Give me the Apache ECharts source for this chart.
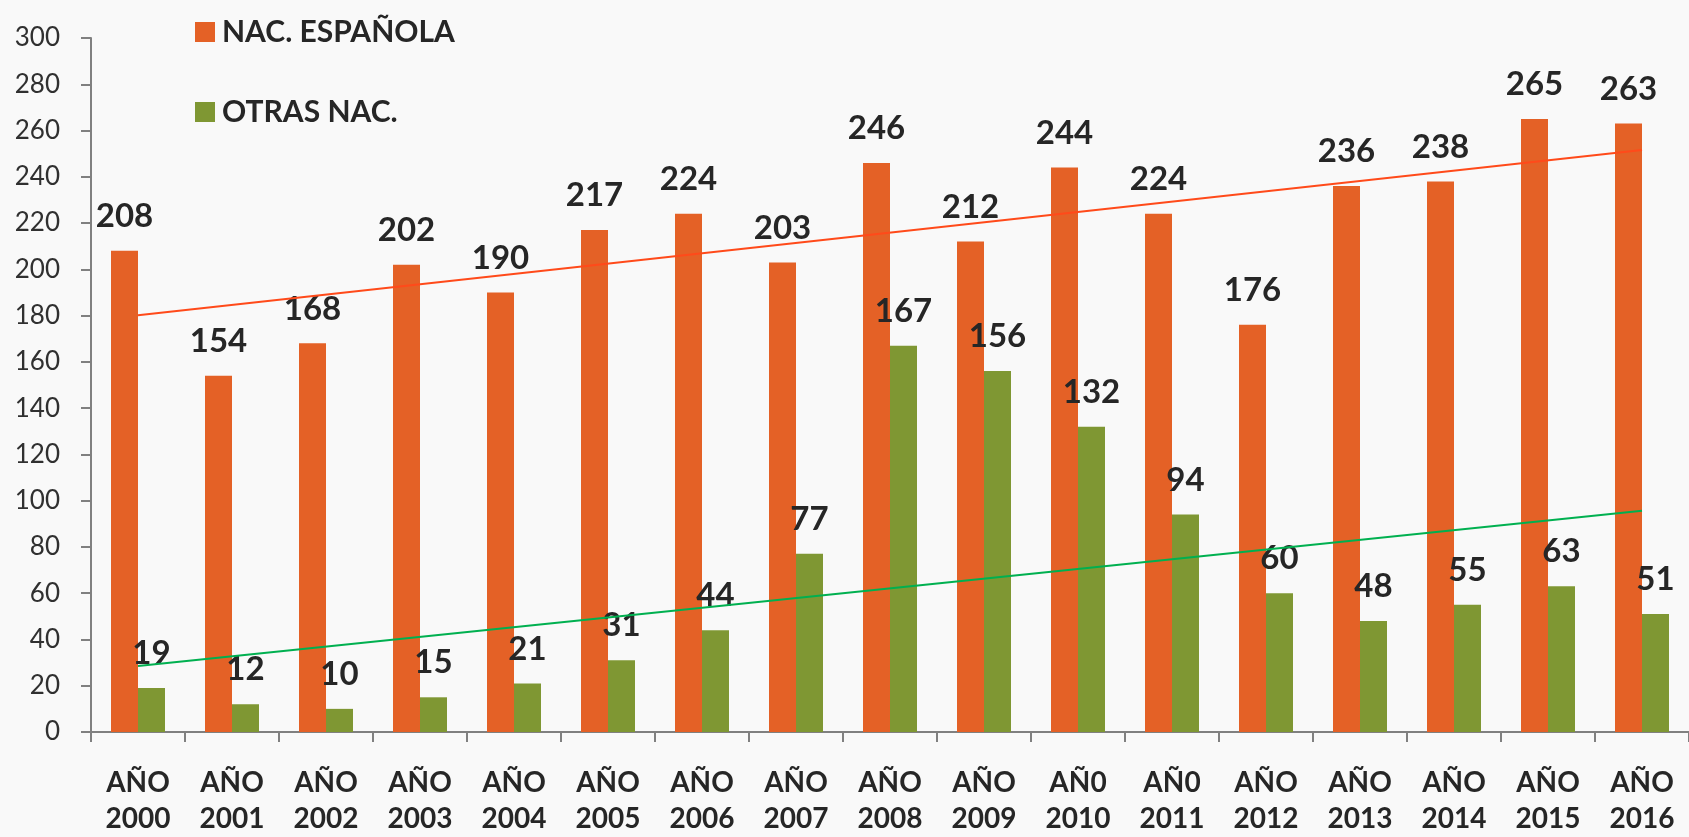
<!DOCTYPE html>
<html>
<head>
<meta charset="utf-8">
<script src="https://cdn.jsdelivr.net/npm/echarts@6/dist/echarts.min.js"></script>
<style>
html,body{margin:0;padding:0;background:#f9f9f9;}
#c{width:1689px;height:837px;}
</style>
</head>
<body>
<div id="c"></div>
<script>
const categories = ['AÑO\n2000','AÑO\n2001','AÑO\n2002','AÑO\n2003','AÑO\n2004','AÑO\n2005','AÑO\n2006','AÑO\n2007','AÑO\n2008','AÑO\n2009','AÑ0\n2010','AÑ0\n2011','AÑO\n2012','AÑO\n2013','AÑO\n2014','AÑO\n2015','AÑO\n2016'];
const espanola = [208,154,168,202,190,217,224,203,246,212,244,224,176,236,238,265,263];
const otras = [19,12,10,15,21,31,44,77,167,156,132,94,60,48,55,63,51];
// trend line endpoints (first and last category)
const trendEspanola = [180.2, 251.6];
const trendOtras = [28.5, 95.6];
const yTicks = {min:0, max:300, interval:20};

function trendSeries(ends){
  const arr = categories.map(()=>null);
  arr[0] = ends[0];
  arr[arr.length-1] = ends[1];
  return arr;
}

const FONT = 'Lato';
const chart = echarts.init(document.getElementById('c'), null, {renderer:'canvas'});
const labelStyle = {show:true, position:'top', distance:18, fontFamily:FONT, fontWeight:'bold', fontSize:33, color:'#262626'};
chart.setOption({
  backgroundColor:'#f9f9f9',
  animation:false,
  grid:{left:91, top:38, width:1611, bottom:102, containLabel:false},
  legend:{
    orient:'vertical', left:190, top:12, itemWidth:20, itemHeight:20, itemGap:50,
    data:['NAC. ESPAÑOLA','OTRAS NAC.'],
    textStyle:{fontFamily:FONT, fontWeight:'bold', fontSize:30, color:'#262626', padding:[0,0,0,2]},
    icon:'rect'
  },
  xAxis:{
    type:'category', data:categories,
    axisLine:{lineStyle:{color:'#808080', width:2}},
    axisTick:{show:true, length:10, lineStyle:{color:'#808080', width:2}},
    axisLabel:{interval:0, margin:33, fontFamily:FONT, fontWeight:'bold', fontSize:28, lineHeight:36, color:'#262626'}
  },
  yAxis:{
    type:'value', min:yTicks.min, max:yTicks.max, interval:yTicks.interval,
    splitLine:{show:false},
    axisLine:{show:true, lineStyle:{color:'#808080', width:2}},
    axisTick:{show:true, length:10, lineStyle:{color:'#808080', width:2}},
    axisLabel:{margin:31, fontFamily:FONT, fontSize:26, color:'#303030'}
  },
  series:[
    {name:'NAC. ESPAÑOLA', type:'bar', data:espanola, barWidth:27, barGap:'0%',
     itemStyle:{color:'#E46126'}, label:labelStyle},
    {name:'OTRAS NAC.', type:'bar', data:otras, barWidth:27,
     itemStyle:{color:'#7F9733'}, label:labelStyle},
    {name:'trendE', type:'line', data:trendSeries(trendEspanola), connectNulls:true, symbol:'none',
     lineStyle:{color:'#FF4A1A', width:2}, z:5},
    {name:'trendO', type:'line', data:trendSeries(trendOtras), connectNulls:true, symbol:'none',
     lineStyle:{color:'#00B050', width:2}, z:5}
  ]
});
</script>
</body>
</html>
